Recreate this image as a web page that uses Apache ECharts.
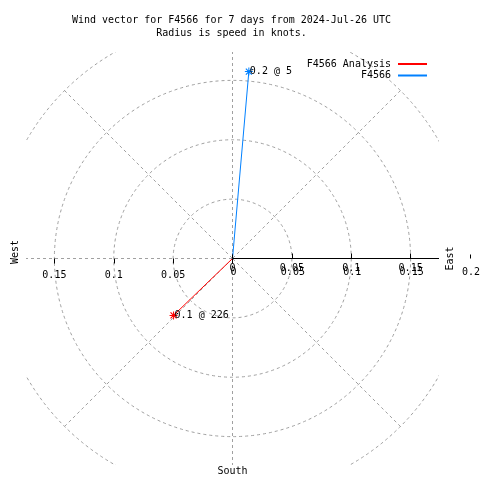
<!DOCTYPE html>
<html><head><meta charset="utf-8">
<script src="https://cdn.jsdelivr.net/npm/echarts@6/dist/echarts.min.js"></script>
<style>html,body{margin:0;padding:0;background:#fff}#c{width:480px;height:480px}</style>
</head><body><div id="c"></div>
<script>
const titleLines = ['Wind vector for F4566 for 7 days from 2024-Jul-26 UTC', 'Radius is speed in knots.'];
const seriesNames = ['F4566 Analysis', 'F4566'];
const seriesColors = ['#ff0000', '#0080ff'];
const directionsDeg = [226, 5];
const speedsKnots = [0.069, 0.158];
const radiusTicks = [0, 0.05, 0.1, 0.15, 0.2];
const compassLabels = ['East', 'South', 'West'];

const FONT = 'DejaVu Sans Mono';
const CENTER = [232.5, 258.5];
const RADIUS = 237.5;
const GRAY = '#a0a0a0';
const rMin = radiusTicks[0];
const rMax = radiusTicks[radiusTicks.length - 1];
const rStep = radiusTicks[1] - radiusTicks[0];

// compass bearing (clockwise from north) -> angle axis value (clockwise from east)
function toAngle(dir) { return ((dir - 90) % 360 + 360) % 360; }

const star = 'path://M-0.5,-4L0.5,-4L0.5,4L-0.5,4Z M-4,-0.5L4,-0.5L4,0.5L-4,0.5Z M-3.4,-2.6L-2.6,-3.4L3.4,2.6L2.6,3.4Z M-3.4,2.6L2.6,-3.4L3.4,-2.6L-2.6,3.4Z';

const series = seriesNames.map((name, i) => ({
  name: name,
  type: 'line',
  coordinateSystem: 'polar',
  polarIndex: 0,
  color: seriesColors[i],
  lineStyle: { width: 1, color: seriesColors[i] },
  itemStyle: { color: seriesColors[i] },
  symbol: star,
  symbolSize: 8,
  showSymbol: true,
  animation: false,
  emphasis: { disabled: true },
  z: 3,
  data: [
    { value: [0, toAngle(directionsDeg[i])], symbol: 'none', label: { show: false } },
    { value: [speedsKnots[i], toAngle(directionsDeg[i])],
      label: { show: true, position: 'right', distance: -3,
        formatter: speedsKnots[i].toFixed(1) + ' @ ' + directionsDeg[i],
        fontFamily: FONT, fontSize: 10, color: '#000' } }
  ]
}));

const txt = { fontFamily: FONT, fontSize: 10, color: '#000' };
const maskStyle = { fill: '#fff' };

const option = {
  animation: false,
  backgroundColor: '#fff',
  polar: [
    { center: CENTER, radius: RADIUS },
    { center: CENTER, radius: RADIUS },
    { center: CENTER, radius: RADIUS }
  ],
  angleAxis: [
    { polarIndex: 0, type: 'value', min: 0, max: 360, interval: 45, startAngle: 0, clockwise: true,
      axisLine: { show: false }, axisTick: { show: false }, axisLabel: { show: false },
      splitLine: { show: true, lineStyle: { color: GRAY, width: 1, type: [3, 3] } } },
    { polarIndex: 1, type: 'value', min: 0, max: 360, startAngle: 0, show: false },
    { polarIndex: 2, type: 'value', min: 0, max: 360, startAngle: 180, show: false }
  ],
  radiusAxis: [
    { polarIndex: 0, type: 'value', min: rMin, max: rMax, interval: rStep, z: 1,
      axisLine: { show: true, lineStyle: { color: '#000', width: 1 } },
      axisTick: { show: true, inside: true, length: 5, lineStyle: { color: '#000' } },
      axisLabel: Object.assign({ show: true, margin: -10, verticalAlign: 'middle' }, txt),
      splitLine: { show: true, lineStyle: { color: GRAY, width: 1, type: [3, 3] } } },
    { polarIndex: 1, type: 'value', min: rMin, max: rMax, interval: rStep, z: 60,
      axisLine: { show: false },
      axisTick: { show: true, length: 4, lineStyle: { color: '#000' } },
      axisLabel: Object.assign({ show: true, margin: -14, verticalAlign: 'middle', padding: [0, 0, 0, 2] }, txt),
      splitLine: { show: false } },
    { polarIndex: 2, type: 'value', min: rMin, max: rMax, interval: rStep, z: 1,
      axisLine: { show: false },
      axisTick: { show: true, length: 5, lineStyle: { color: '#000' } },
      axisLabel: Object.assign({ show: true, margin: 17, verticalAlign: 'middle',
        formatter: v => (v === 0 ? '' : String(v)) }, txt),
      splitLine: { show: false } }
  ],
  legend: {
    data: seriesNames, orient: 'vertical', right: 48, top: 54, align: 'right',
    icon: 'rect', itemWidth: 29, itemHeight: 2, itemGap: 1.5, selectedMode: false, z: 100,
    textStyle: { fontFamily: FONT, fontSize: 10, color: '#000', padding: [0, 2, 0, 0] }
  },
  graphic: { elements: [
    { type: 'rect', z: 50, shape: { x: 0, y: 0, width: 26, height: 480 }, style: maskStyle, silent: true },
    { type: 'rect', z: 50, shape: { x: 439, y: 0, width: 41, height: 480 }, style: maskStyle, silent: true },
    { type: 'rect', z: 50, shape: { x: 0, y: 0, width: 480, height: 52 }, style: maskStyle, silent: true },
    { type: 'rect', z: 50, shape: { x: 0, y: 465, width: 480, height: 15 }, style: maskStyle, silent: true },
    { type: 'text', z: 60, x: 231.5, y: 14,
      style: { text: titleLines.join('\n'), font: '10px "DejaVu Sans Mono"', fill: '#000', align: 'center', verticalAlign: 'top', lineHeight: 13 } },
    { type: 'text', z: 60, x: 450, y: 258.5, rotation: Math.PI / 2,
      style: { text: compassLabels[0], font: '10px "DejaVu Sans Mono"', fill: '#000', align: 'center', verticalAlign: 'middle' } },
    { type: 'text', z: 60, x: 232.5, y: 471.5,
      style: { text: compassLabels[1], font: '10px "DejaVu Sans Mono"', fill: '#000', align: 'center', verticalAlign: 'middle' } },
    { type: 'text', z: 60, x: 15, y: 252, rotation: Math.PI / 2,
      style: { text: compassLabels[2], font: '10px "DejaVu Sans Mono"', fill: '#000', align: 'center', verticalAlign: 'middle' } }
  ] },
  series: series
};

const chart = echarts.init(document.getElementById('c'), null, { renderer: 'canvas' });
chart.setOption(option);
</script>
</body></html>
